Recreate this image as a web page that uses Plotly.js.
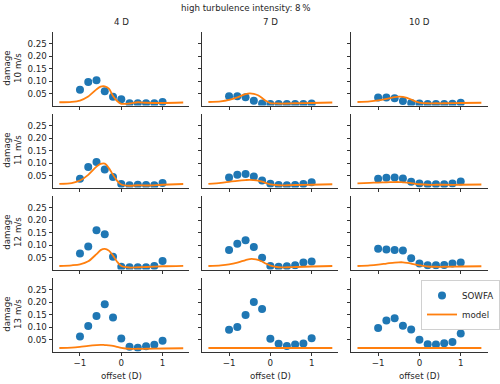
<!DOCTYPE html>
<html>
<head>
<meta charset="utf-8">
<script src="https://cdn.plot.ly/plotly-3.0.1.min.js"></script>
<style>
  html, body { margin: 0; padding: 0; background: #fff; }
  #chart { width: 500px; height: 384px; }
</style>
</head>
<body>
<div id="chart"></div>
<script>
// rows = wind speed, columns = downstream distance
const speeds = ['10 m/s', '11 m/s', '12 m/s', '13 m/s'];
const distances = ['4 D', '7 D', '10 D'];
const offsets = [-1, -0.8, -0.6, -0.4, -0.2, 0, 0.2, 0.4, 0.6, 0.8, 1];
const modelX = [-1.5, -1.2, -1.0, -0.8, -0.6, -0.5, -0.4, -0.3, -0.2, -0.1, 0, 0.2, 0.4, 0.6, 1.0, 1.5];
const yTicks = [0.05, 0.10, 0.15, 0.20, 0.25];
const xTicks = [-1, 0, 1];

// SOWFA damage
const sowfa_10_4D  = [0.065, 0.097, 0.104, 0.059, 0.037, 0.027, 0.011, 0.011, 0.011, 0.011, 0.016];
const sowfa_10_7D  = [0.039, 0.039, 0.035, 0.021, 0.010, 0.008, 0.008, 0.008, 0.008, 0.008, 0.010];
const sowfa_10_10D = [0.034, 0.034, 0.031, 0.020, 0.012, 0.010, 0.008, 0.008, 0.008, 0.009, 0.013];
const sowfa_11_4D  = [0.037, 0.085, 0.105, 0.074, 0.044, 0.016, 0.011, 0.013, 0.012, 0.011, 0.020];
const sowfa_11_7D  = [0.042, 0.053, 0.056, 0.046, 0.030, 0.017, 0.012, 0.011, 0.012, 0.016, 0.023];
const sowfa_11_10D = [0.037, 0.041, 0.042, 0.038, 0.025, 0.018, 0.015, 0.015, 0.015, 0.018, 0.026];
const sowfa_12_4D  = [0.066, 0.095, 0.160, 0.144, 0.053, 0.013, 0.011, 0.011, 0.011, 0.016, 0.036];
const sowfa_12_7D  = [0.081, 0.106, 0.120, 0.093, 0.049, 0.016, 0.013, 0.015, 0.019, 0.030, 0.034];
const sowfa_12_10D = [0.086, 0.083, 0.081, 0.079, 0.047, 0.026, 0.019, 0.019, 0.020, 0.026, 0.030];
const sowfa_13_4D  = [0.062, 0.105, 0.145, 0.192, 0.139, 0.054, 0.021, 0.017, 0.023, 0.029, 0.045];
const sowfa_13_7D  = [0.090, 0.101, 0.149, 0.201, 0.173, 0.053, 0.033, 0.024, 0.030, 0.034, 0.055];
const sowfa_13_10D = [0.097, 0.127, 0.136, 0.106, 0.091, 0.049, 0.031, 0.030, 0.035, 0.040, 0.074];

// model damage (sampled at modelX)
const model_10_4D  = [0.015, 0.017, 0.022, 0.038, 0.067, 0.078, 0.079, 0.070, 0.040, 0.020, 0.009, 0.010, 0.015, 0.013, 0.012, 0.014];
const model_10_7D  = [0.016, 0.019, 0.025, 0.035, 0.048, 0.051, 0.049, 0.043, 0.032, 0.020, 0.012, 0.010, 0.010, 0.011, 0.012, 0.014];
const model_10_10D = [0.016, 0.019, 0.023, 0.029, 0.036, 0.038, 0.037, 0.033, 0.026, 0.019, 0.014, 0.011, 0.011, 0.011, 0.012, 0.013];
const model_11_4D  = [0.017, 0.020, 0.030, 0.053, 0.086, 0.097, 0.098, 0.080, 0.053, 0.029, 0.014, 0.009, 0.011, 0.010, 0.013, 0.016];
const model_11_7D  = [0.017, 0.021, 0.025, 0.029, 0.032, 0.033, 0.032, 0.030, 0.026, 0.020, 0.015, 0.011, 0.011, 0.012, 0.013, 0.015];
const model_11_10D = [0.019, 0.021, 0.022, 0.023, 0.024, 0.024, 0.023, 0.022, 0.020, 0.017, 0.015, 0.013, 0.013, 0.013, 0.013, 0.014];
const model_12_4D  = [0.016, 0.019, 0.023, 0.035, 0.064, 0.080, 0.085, 0.078, 0.058, 0.033, 0.016, 0.010, 0.011, 0.012, 0.015, 0.017];
const model_12_7D  = [0.016, 0.019, 0.023, 0.030, 0.040, 0.044, 0.044, 0.041, 0.034, 0.025, 0.018, 0.011, 0.011, 0.012, 0.014, 0.016];
const model_12_10D = [0.016, 0.019, 0.022, 0.026, 0.030, 0.031, 0.031, 0.029, 0.026, 0.022, 0.019, 0.014, 0.013, 0.013, 0.014, 0.015];
const model_13_4D  = [0.016, 0.018, 0.021, 0.025, 0.028, 0.029, 0.028, 0.027, 0.025, 0.021, 0.017, 0.013, 0.013, 0.013, 0.014, 0.015];
const model_13_7D  = [0.016, 0.016, 0.016, 0.016, 0.016, 0.016, 0.016, 0.016, 0.016, 0.016, 0.016, 0.016, 0.016, 0.016, 0.016, 0.016];
const model_13_10D = [0.016, 0.016, 0.016, 0.016, 0.016, 0.016, 0.016, 0.016, 0.016, 0.016, 0.016, 0.016, 0.016, 0.016, 0.016, 0.016];

const sowfa = [
    [sowfa_10_4D, sowfa_10_7D, sowfa_10_10D],
    [sowfa_11_4D, sowfa_11_7D, sowfa_11_10D],
    [sowfa_12_4D, sowfa_12_7D, sowfa_12_10D],
    [sowfa_13_4D, sowfa_13_7D, sowfa_13_10D]
];
const model = [
    [model_10_4D, model_10_7D, model_10_10D],
    [model_11_4D, model_11_7D, model_11_10D],
    [model_12_4D, model_12_7D, model_12_10D],
    [model_13_4D, model_13_7D, model_13_10D]
];

const W = 500, H = 384;
const FONT = 'DejaVu Sans';
const FS = 8.7;
const colLeft = [54, 205.5, 357];
const colWidth = 138.5;
const rowTop = [31.5, 113.5, 195.5, 277.5];
const rowHeight = 74;

const traces = [];
const layout = {
    width: W, height: H,
    margin: { l: 0, r: 0, t: 0, b: 0 },
    paper_bgcolor: '#fff',
    plot_bgcolor: '#fff',
    font: { family: FONT, size: FS, color: '#262626' },
    showlegend: true,
    legend: {
        x: 428 / W, y: 1 - 280 / H, xanchor: 'left', yanchor: 'top',
        bgcolor: '#fff', bordercolor: '#d0d0d0', borderwidth: 1,
        font: { family: FONT, size: FS, color: '#262626' },
        tracegroupgap: 0
    },
    annotations: []
};

const axisStyle = {
    showline: true, linecolor: '#333', linewidth: 1,
    ticks: 'outside', ticklen: 3.5, tickwidth: 1, tickcolor: '#333',
    showgrid: false, zeroline: false, fixedrange: true,
    tickfont: { family: FONT, size: FS, color: '#262626' }
};

for (let r = 0; r < 4; r++) {
    for (let c = 0; c < 3; c++) {
        const k = r * 3 + c + 1;
        const xa = k === 1 ? 'x' : 'x' + k;
        const ya = k === 1 ? 'y' : 'y' + k;
        const last = (r === 3 && c === 2);

        traces.push({
            x: offsets, y: sowfa[r][c], xaxis: xa, yaxis: ya,
            type: 'scatter', mode: 'markers', name: 'SOWFA',
            marker: { color: '#1f77b4', size: 8 },
            showlegend: last
        });
        traces.push({
            x: modelX, y: model[r][c], xaxis: xa, yaxis: ya,
            type: 'scatter', mode: 'lines', name: 'model',
            line: { color: '#ff7f0e', width: 1.8, shape: 'spline', smoothing: 0.8 },
            showlegend: last
        });

        layout['xaxis' + (k === 1 ? '' : k)] = Object.assign({}, axisStyle, {
            domain: [colLeft[c] / W, (colLeft[c] + colWidth) / W],
            anchor: ya,
            range: [-1.65, 1.65],
            tickvals: xTicks,
            ticktext: xTicks.map(v => v < 0 ? '\u2212' + Math.abs(v) : String(v)),
            showticklabels: r === 3
        });
        layout['yaxis' + (k === 1 ? '' : k)] = Object.assign({}, axisStyle, {
            domain: [1 - (rowTop[r] + rowHeight) / H, 1 - rowTop[r] / H],
            anchor: xa,
            range: [0.002, 0.30],
            tickvals: yTicks,
            ticktext: yTicks.map(v => v.toFixed(2)),
            showticklabels: c === 0
        });
    }
}

// suptitle, column titles, row labels, x labels
layout.annotations.push({
    xref: 'paper', yref: 'paper', x: 0.5, y: 1 - 7.5 / H,
    xanchor: 'center', yanchor: 'middle', showarrow: false,
    text: 'high turbulence intensity: 8\u2009%'
});
distances.forEach((d, c) => {
    layout.annotations.push({
        xref: 'paper', yref: 'paper',
        x: (colLeft[c] + colWidth / 2) / W, y: 1 - 21.5 / H,
        xanchor: 'center', yanchor: 'middle', showarrow: false, text: d
    });
    layout.annotations.push({
        xref: 'paper', yref: 'paper',
        x: (colLeft[c] + colWidth / 2) / W, y: 1 - 376 / H,
        xanchor: 'center', yanchor: 'middle', showarrow: false, text: 'offset (D)'
    });
});
speeds.forEach((s, r) => {
    layout.annotations.push({
        xref: 'paper', yref: 'paper',
        x: 12.5 / W, y: 1 - (rowTop[r] + rowHeight / 2) / H,
        xanchor: 'center', yanchor: 'middle', showarrow: false,
        textangle: -90, text: 'damage<br>' + s
    });
});

Plotly.newPlot('chart', traces, layout, { staticPlot: true, displayModeBar: false });
</script>
</body>
</html>
